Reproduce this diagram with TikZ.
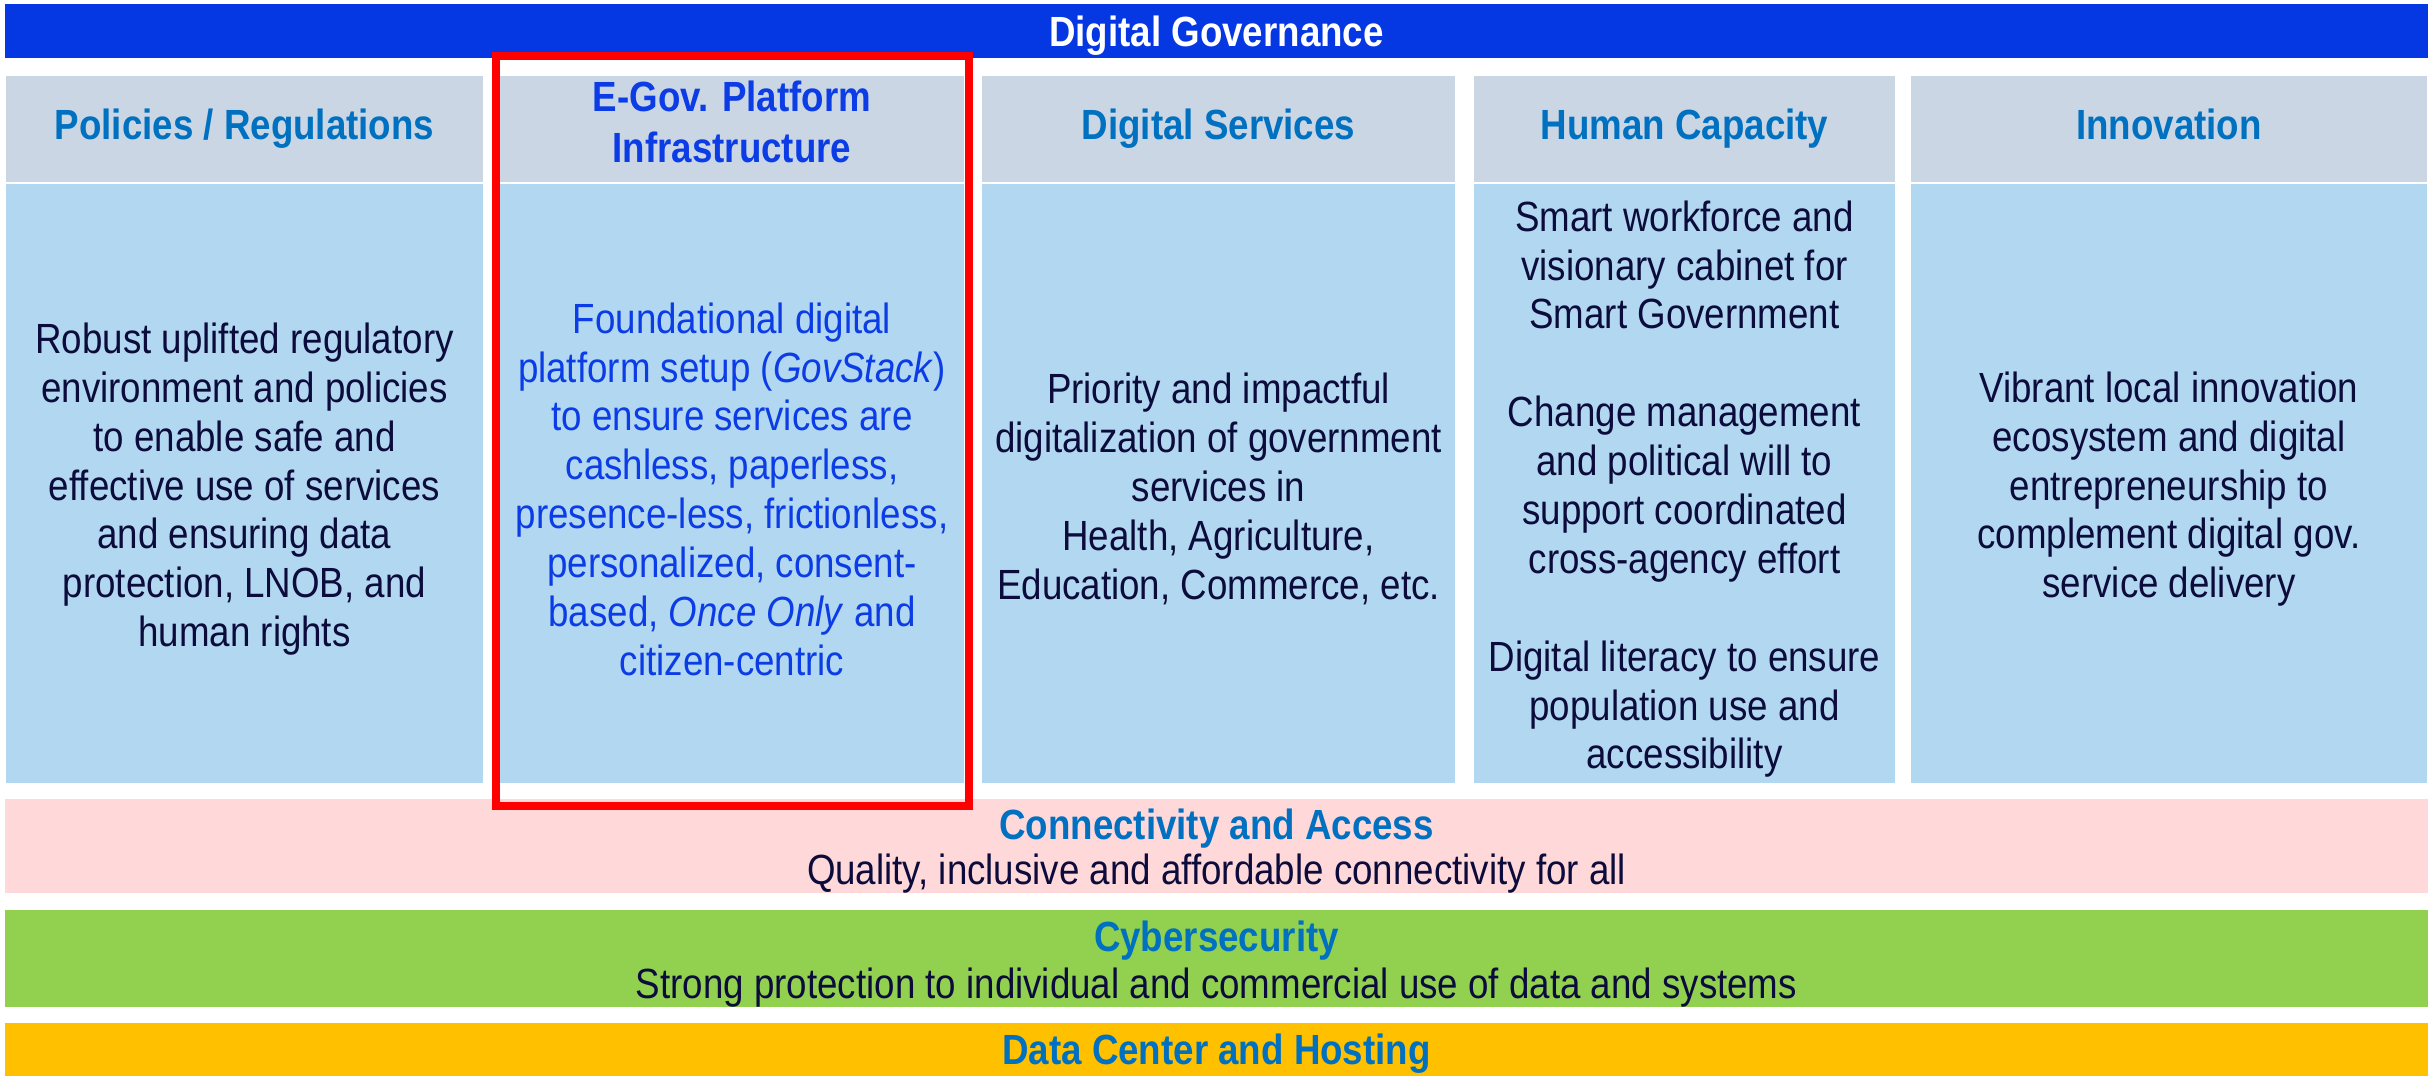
\documentclass[tikz,border=0pt]{standalone}
\usepackage{fontspec}
\setmainfont{Liberation Sans}[FakeStretch=0.87]
\usepackage{tikz}
\usetikzlibrary{positioning}

\definecolor{topblue}{HTML}{0538E3}
\definecolor{hdrblue}{HTML}{0070C0}
\definecolor{egovblue}{HTML}{0B3CE6}
\definecolor{navy}{HTML}{0C0C3C}
\definecolor{hdrgray}{HTML}{CAD6E4}
\definecolor{bodyblue}{HTML}{B2D7F0}
\definecolor{pinkband}{HTML}{FFD8DA}
\definecolor{greenband}{HTML}{92D050}
\definecolor{orangeband}{HTML}{FFC000}

\tikzset{
  cell/.style={inner sep=0pt, align=center},
  headcell/.style={cell, fill=hdrgray, minimum height=1.06cm, text=hdrblue,
    font=\fontsize{12}{14.5}\selectfont\bfseries,
    execute at begin node=\strut, execute at end node=\strut},
  bodycell/.style={cell, fill=bodyblue, minimum height=5.99cm},
  bodytext/.style={cell, text=navy, yshift=-1.6pt,
    font=\fontsize{12}{13.9}\selectfont},
  band/.style={inner sep=0pt, minimum width=24.21cm},
  bandtitle/.style={inner sep=0pt, text=hdrblue, yshift=-1.1pt,
    font=\fontsize{12}{14}\selectfont\bfseries},
  bandtext/.style={inner sep=0pt, text=navy, yshift=-1.1pt,
    font=\fontsize{12}{14}\selectfont},
  hilite/.style={draw=red, line width=0.08cm},
}

\begin{document}
\begin{tikzpicture}[x=0.01cm,y=-0.01cm]
  \useasboundingbox (0,0) rectangle (2433,1076);

  % top bar
  \node[band, fill=topblue, minimum height=0.54cm, text depth=0pt, text=white,
    font=\fontsize{12}{14}\selectfont\bfseries] (gov) at (1216.5,31) {Digital Governance};

  % column headers
  \node[headcell, minimum width=4.77cm] (polhead) at (244.5,129) {Policies / Regulations};
  \node[headcell, minimum width=4.64cm, text=egovblue] (egovhead) at (732,129) {E-Gov. Platform\\Infrastructure};
  \node[headcell, minimum width=4.73cm] (svchead) at (1218.5,129) {Digital Services};
  \node[headcell, minimum width=4.21cm] (caphead) at (1684.5,129) {Human Capacity};
  \node[headcell, minimum width=5.16cm] (innohead) at (2169,129) {Innovation};

  % column bodies
  \node[bodycell, minimum width=4.77cm] (polbody) at (244.5,483.5) {};
  \node[bodycell, minimum width=4.64cm] (egovbody) at (732,483.5) {};
  \node[bodycell, minimum width=4.73cm] (svcbody) at (1218.5,483.5) {};
  \node[bodycell, minimum width=4.21cm] (capbody) at (1684.5,483.5) {};
  \node[bodycell, minimum width=5.16cm] (innobody) at (2169,483.5) {};

  \node[bodytext] (poltext) at (polbody.center)
    {Robust uplifted regulatory\\environment and policies\\to enable safe and\\effective use of services\\and ensuring data\\protection, LNOB, and\\human rights};
  \node[bodytext, text=egovblue] (egovtext) at (egovbody.center)
    {Foundational digital\\platform setup (\textit{GovStack})\\to ensure services are\\cashless, paperless,\\presence-less, frictionless,\\personalized, consent-\\based, \textit{Once Only} and\\citizen-centric};
  \node[bodytext] (svctext) at (svcbody.center)
    {Priority and impactful\\digitalization of government\\services in\\Health, Agriculture,\\Education, Commerce, etc.};
  \node[bodytext] (captext) at (capbody.center)
    {Smart workforce and\\visionary cabinet for\\Smart Government\\[13.9pt]Change management\\and political will to\\support coordinated\\cross-agency effort\\[13.9pt]Digital literacy to ensure\\population use and\\accessibility};
  \node[bodytext] (innotext) at (innobody.center)
    {Vibrant local innovation\\ecosystem and digital\\entrepreneurship to\\complement digital gov.\\service delivery};

  % bottom layers
  \node[band, fill=pinkband, minimum height=0.94cm] (conn) at (1216.5,846) {};
  \node[bandtitle] (conntitle) at (1216.5,825) {Connectivity and Access};
  \node[bandtext] (conntext) at (1216.5,870) {Quality, inclusive and affordable connectivity for all};

  \node[band, fill=greenband, minimum height=0.97cm] (cyber) at (1216.5,958.5) {};
  \node[bandtitle] (cybertitle) at (1216.5,937) {Cybersecurity};
  \node[bandtext] (cybertext) at (1216.5,984) {Strong protection to individual and commercial use of data and systems};

  \node[band, fill=orangeband, minimum height=0.53cm] (dc) at (1216.5,1049.5) {};
  \node[bandtitle] (dctitle) at (1216.5,1050) {Data Center and Hosting};

  % highlighted column
  \draw[hilite] (496,56) rectangle (969,806);
\end{tikzpicture}
\end{document}
